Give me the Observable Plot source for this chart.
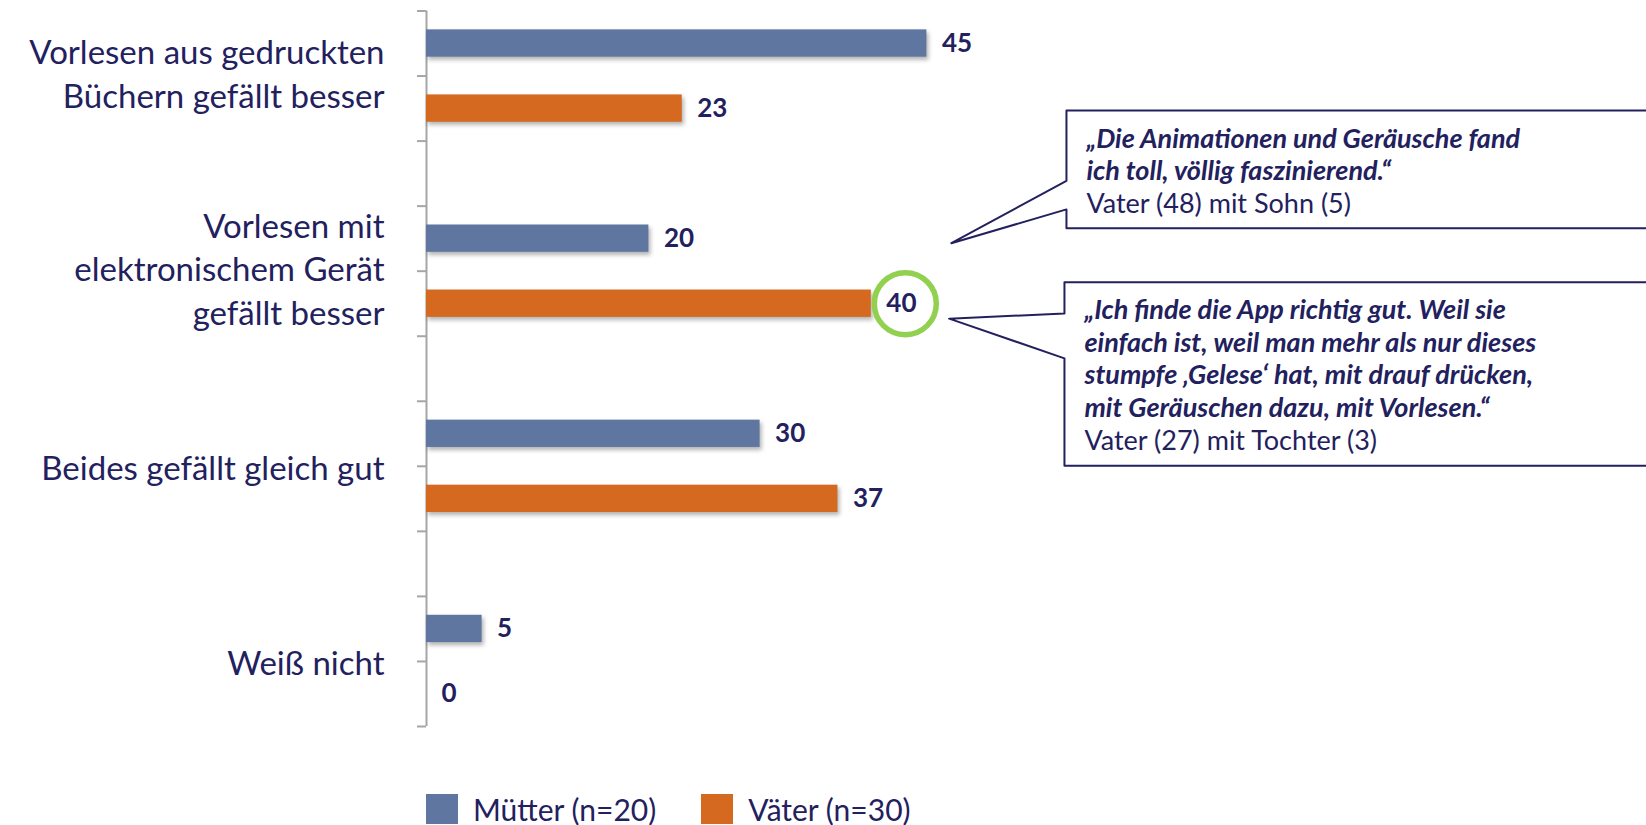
<!DOCTYPE html>
<html><head><meta charset="utf-8">
<script src="https://cdn.jsdelivr.net/npm/d3@7"></script>
<script src="https://cdn.jsdelivr.net/npm/@observablehq/plot@0.6"></script>
<style>
html,body{margin:0;padding:0;background:#fff;overflow:hidden;width:1646px;height:825px;}
#chart{width:1646px;overflow:hidden;}
#legend{display:flex;align-items:center;height:30px;margin-left:426px;margin-top:4px;font-family:Lato;font-size:30px;color:#22215e;}
#legend .sw{width:32px;height:30px;display:inline-block;}
#legend .lab{margin-left:15px;margin-right:45px;white-space:nowrap;}
</style></head><body>
<div id="chart"></div>
<div id="legend"></div>
<script>
const categories = [
  "Vorlesen aus gedruckten\nBüchern gefällt besser",
  "Vorlesen mit\nelektronischem Gerät\ngefällt besser",
  "Beides gefällt gleich gut",
  "Weiß nicht"
];
const series = ["Mütter (n=20)", "Väter (n=30)"];
const muetter = [45, 20, 30, 5];
const vaeter = [23, 40, 37, 0];
const colors = ["#5f77a0", "#d4691f"];
const highlight = [{category: 1, series: 1}];
const callouts = [
  {quote: "„Die Animationen und Geräusche fand\nich toll, völlig faszinierend.“",
   who: "Vater (48) mit Sohn (5)",
   x1: 57.55, y1: 1.53, y2: 3.34, baseTop: 2.61, baseBottom: 3.05, tipX: 47.2, tipY: 3.57},
  {quote: "„Ich finde die App richtig gut. Weil sie\neinfach ist, weil man mehr als nur dieses\nstumpfe ‚Gelese‘ hat, mit drauf drücken,\nmit Geräuschen dazu, mit Vorlesen.“",
   who: "Vater (27) mit Tochter (3)",
   x1: 57.37, y1: 4.17, y2: 6.99, baseTop: 4.65, baseBottom: 5.34, tipX: 47.0, tipY: 4.73}
];

const navy = "#22215e";
const gray = "#a6a6a6";
const green = "#92d050";
const SLOTS = 3; // two bars + one gap per category

const rows = categories.flatMap((c, i) => series.map((s, j) => ({
  cat: c, ci: i, series: s, si: j,
  value: j === 0 ? muetter[i] : vaeter[i],
  slot: i * SLOTS + j
})));
const nSlots = (categories.length - 1) * SLOTS + series.length;
const hl = highlight.map(h => rows.find(r => r.ci === h.category && r.si === h.series));
const catRows = categories.map((c, i) => ({text: c, y: i * SLOTS + 0.5 * series.length, multi: c.includes("\n")}));

const RIGHT = 115;
const outline = callouts.flatMap((c, k) => [
  [c.x1, c.baseTop], [c.x1, c.y1], [RIGHT, c.y1], [RIGHT, c.y2], [c.x1, c.y2],
  [c.x1, c.baseBottom], [c.tipX, c.tipY], [c.x1, c.baseTop]
].map(([x, y]) => ({x, y, k})));

const LH = 32.6, QFS = 27, WFS = 27, BASE = 37;
const calloutTexts = callouts.flatMap(c => {
  const n = c.quote.split("\n").length;
  return [
    Plot.text([c], {x: "x1", y: "y1", text: "quote", textAnchor: "start", lineAnchor: "top",
      dx: 20, dy: BASE - 0.71 * LH, fontSize: QFS, fontWeight: "bold", fontStyle: "italic", lineHeight: LH / QFS, fill: navy}),
    Plot.text([c], {x: "x1", y: "y1", text: "who", textAnchor: "start", lineAnchor: "top",
      dx: 20, dy: BASE + n * LH - 0.71 * WFS, fontSize: WFS, fill: navy})
  ];
});

const catStyle = {x: 0, y: "y", text: "text", textAnchor: "end", dx: -42, fontSize: 33, lineHeight: 43.5 / 33, fill: navy};

const chart = Plot.plot({
  width: 1646,
  height: 790,
  marginLeft: 426,
  marginRight: 108,
  marginTop: 10.5,
  marginBottom: 64,
  style: {fontFamily: "Lato", color: navy, background: "white"},
  x: {domain: [0, 100], axis: null},
  y: {domain: [0, nSlots], reverse: true},
  color: {domain: series, range: colors},
  marks: [
    Plot.axisY({ticks: d3.range(nSlots + 1), tickFormat: () => "", tickSize: 9, stroke: gray, strokeWidth: 2, label: null}),
    Plot.ruleX([0], {y1: 0, y2: nSlots, stroke: gray, strokeWidth: 2}),
    Plot.rect(rows, {x1: 0, x2: "value", y1: d => d.slot + 0.29, y2: d => d.slot + 0.71, fill: "series"}),
    Plot.text(rows, {x: "value", y: d => d.slot + 0.5, text: d => String(d.value), dx: 15, textAnchor: "start",
      fontWeight: "bold", fontSize: 26, fill: navy}),
    Plot.dot(hl, {x: "value", y: d => d.slot + 0.5, r: 31, dx: 34, stroke: green, strokeWidth: 5.5, fill: "none"}),
    Plot.text(catRows.filter(d => d.multi), {...catStyle, dy: -4}),
    Plot.text(catRows.filter(d => !d.multi), {...catStyle, dy: -0.5}),
    Plot.rect(callouts, {x1: "x1", x2: RIGHT, y1: "y1", y2: "y2", fill: "white"}),
    Plot.line(outline, {x: "x", y: "y", z: "k", stroke: navy, strokeWidth: 2, curve: "linear"}),
    ...calloutTexts
  ]
});
document.getElementById("chart").appendChild(chart);
const barG = chart.querySelectorAll('g[aria-label="rect"]')[0];
if (barG) barG.style.filter = "drop-shadow(2px 3px 2px rgba(0,0,0,0.3))";

const legend = document.getElementById("legend");
series.forEach((s, i) => {
  const sw = document.createElement("span"); sw.className = "sw"; sw.style.background = colors[i];
  const lab = document.createElement("span"); lab.className = "lab"; lab.textContent = s;
  legend.appendChild(sw); legend.appendChild(lab);
});
</script>
</body></html>
